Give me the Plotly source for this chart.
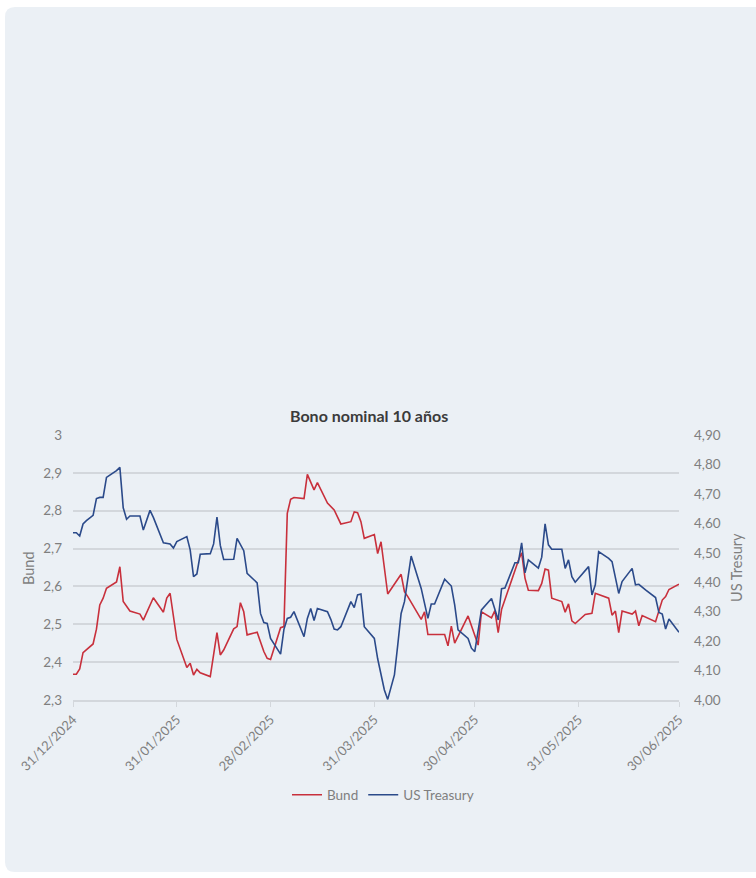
import plotly.graph_objects as go

# ---------------- data ----------------
x_tick_dates = ["2024-12-31", "2025-01-31", "2025-02-28", "2025-03-31",
                "2025-04-30", "2025-05-31", "2025-06-30"]
x_tick_labels = ["31/12/2024", "31/01/2025", "28/02/2025", "31/03/2025",
                 "30/04/2025", "31/05/2025", "30/06/2025"]

bund_dates = [
    "2024-12-31", "2025-01-01", "2025-01-02", "2025-01-03", "2025-01-06", "2025-01-07",
    "2025-01-08", "2025-01-09", "2025-01-10", "2025-01-13", "2025-01-14", "2025-01-15",
    "2025-01-17", "2025-01-20", "2025-01-21", "2025-01-24", "2025-01-27", "2025-01-28",
    "2025-01-29", "2025-01-31", "2025-02-03", "2025-02-04", "2025-02-05", "2025-02-06",
    "2025-02-07", "2025-02-10", "2025-02-12", "2025-02-13", "2025-02-14", "2025-02-17",
    "2025-02-18", "2025-02-19", "2025-02-20", "2025-02-21", "2025-02-24", "2025-02-26",
    "2025-02-27", "2025-02-28", "2025-03-03", "2025-03-04", "2025-03-05", "2025-03-06",
    "2025-03-07", "2025-03-10", "2025-03-11", "2025-03-13", "2025-03-14", "2025-03-17",
    "2025-03-19", "2025-03-21", "2025-03-24", "2025-03-25", "2025-03-26", "2025-03-27",
    "2025-03-28", "2025-03-31", "2025-04-01", "2025-04-02", "2025-04-04", "2025-04-08",
    "2025-04-09", "2025-04-10", "2025-04-14", "2025-04-15", "2025-04-16", "2025-04-21",
    "2025-04-22", "2025-04-23", "2025-04-24", "2025-04-28", "2025-05-01", "2025-05-02",
    "2025-05-05", "2025-05-06", "2025-05-07", "2025-05-08", "2025-05-13", "2025-05-14",
    "2025-05-15", "2025-05-16", "2025-05-19", "2025-05-20", "2025-05-21", "2025-05-22",
    "2025-05-23", "2025-05-26", "2025-05-27", "2025-05-28", "2025-05-29", "2025-05-30",
    "2025-06-02", "2025-06-04", "2025-06-05", "2025-06-09", "2025-06-10", "2025-06-11",
    "2025-06-12", "2025-06-13", "2025-06-16", "2025-06-17", "2025-06-18", "2025-06-19",
    "2025-06-23", "2025-06-24", "2025-06-25", "2025-06-26", "2025-06-27", "2025-06-30",
]
bund_vals = [
    2.368, 2.368, 2.382, 2.425, 2.448, 2.487,
    2.551, 2.569, 2.595, 2.612, 2.652, 2.560,
    2.535, 2.527, 2.511, 2.570, 2.532, 2.569,
    2.582, 2.460, 2.386, 2.397, 2.366, 2.381,
    2.372, 2.362, 2.478, 2.419, 2.432, 2.488,
    2.494, 2.557, 2.533, 2.472, 2.479, 2.428,
    2.410, 2.407, 2.491, 2.494, 2.793, 2.830,
    2.835, 2.832, 2.896, 2.855, 2.874, 2.820,
    2.802, 2.765, 2.771, 2.797, 2.795, 2.771,
    2.727, 2.737, 2.687, 2.718, 2.580, 2.632,
    2.586, 2.573, 2.513, 2.533, 2.473, 2.473,
    2.443, 2.495, 2.450, 2.522, 2.445, 2.533,
    2.517, 2.536, 2.478, 2.539, 2.668, 2.689,
    2.622, 2.590, 2.589, 2.608, 2.646, 2.643,
    2.569, 2.560, 2.532, 2.554, 2.509, 2.502,
    2.526, 2.529, 2.582, 2.569, 2.524, 2.535,
    2.478, 2.535, 2.527, 2.535, 2.496, 2.523,
    2.507, 2.538, 2.564, 2.573, 2.592, 2.606,
]

ust_dates = [
    "2024-12-31", "2025-01-01", "2025-01-02", "2025-01-03", "2025-01-04", "2025-01-06",
    "2025-01-07", "2025-01-08", "2025-01-09", "2025-01-10", "2025-01-11", "2025-01-13",
    "2025-01-14", "2025-01-15", "2025-01-16", "2025-01-17", "2025-01-20", "2025-01-21",
    "2025-01-23", "2025-01-24", "2025-01-27", "2025-01-29", "2025-01-30", "2025-01-31",
    "2025-02-03", "2025-02-04", "2025-02-05", "2025-02-06", "2025-02-07", "2025-02-10",
    "2025-02-11", "2025-02-12", "2025-02-13", "2025-02-14", "2025-02-17", "2025-02-18",
    "2025-02-20", "2025-02-21", "2025-02-24", "2025-02-25", "2025-02-26", "2025-02-27",
    "2025-02-28", "2025-03-03", "2025-03-04", "2025-03-05", "2025-03-06", "2025-03-07",
    "2025-03-10", "2025-03-11", "2025-03-12", "2025-03-13", "2025-03-14", "2025-03-17",
    "2025-03-18", "2025-03-19", "2025-03-20", "2025-03-21", "2025-03-24", "2025-03-25",
    "2025-03-26", "2025-03-27", "2025-03-28", "2025-03-31", "2025-04-01", "2025-04-03",
    "2025-04-04", "2025-04-06", "2025-04-07", "2025-04-08", "2025-04-09", "2025-04-10",
    "2025-04-11", "2025-04-14", "2025-04-15", "2025-04-16", "2025-04-17", "2025-04-18",
    "2025-04-21", "2025-04-23", "2025-04-24", "2025-04-25", "2025-04-28", "2025-04-29",
    "2025-04-30", "2025-05-02", "2025-05-05", "2025-05-07", "2025-05-08", "2025-05-09",
    "2025-05-12", "2025-05-13", "2025-05-14", "2025-05-15", "2025-05-16", "2025-05-19",
    "2025-05-20", "2025-05-21", "2025-05-22", "2025-05-23", "2025-05-26", "2025-05-27",
    "2025-05-28", "2025-05-29", "2025-05-30", "2025-06-03", "2025-06-04", "2025-06-05",
    "2025-06-06", "2025-06-09", "2025-06-10", "2025-06-12", "2025-06-13", "2025-06-16",
    "2025-06-17", "2025-06-18", "2025-06-20", "2025-06-23", "2025-06-24", "2025-06-25",
    "2025-06-26", "2025-06-27", "2025-06-30",
]
ust_vals = [
    4.568, 4.568, 4.557, 4.598, 4.609, 4.627,
    4.684, 4.688, 4.688, 4.756, 4.764, 4.779,
    4.790, 4.653, 4.614, 4.625, 4.625, 4.577,
    4.644, 4.620, 4.534, 4.530, 4.516, 4.538,
    4.555, 4.510, 4.419, 4.428, 4.495, 4.497,
    4.530, 4.621, 4.525, 4.477, 4.478, 4.549,
    4.507, 4.430, 4.398, 4.294, 4.263, 4.260,
    4.209, 4.156, 4.240, 4.277, 4.281, 4.300,
    4.215, 4.277, 4.311, 4.270, 4.311, 4.300,
    4.274, 4.241, 4.238, 4.249, 4.334, 4.314,
    4.357, 4.360, 4.249, 4.209, 4.140, 4.034,
    4.002, 4.085, 4.187, 4.294, 4.334, 4.419,
    4.489, 4.379, 4.331, 4.277, 4.326, 4.326,
    4.410, 4.387, 4.323, 4.238, 4.209, 4.176,
    4.164, 4.306, 4.345, 4.272, 4.378, 4.380,
    4.466, 4.466, 4.534, 4.432, 4.476, 4.448,
    4.485, 4.598, 4.527, 4.512, 4.512, 4.447,
    4.476, 4.419, 4.400, 4.453, 4.357, 4.391,
    4.504, 4.481, 4.470, 4.362, 4.402, 4.447,
    4.391, 4.393, 4.374, 4.348, 4.297, 4.292,
    4.241, 4.275, 4.230,
]

# ---------------- style ----------------
W, H = 756, 878
ML, MR, MT, MB = 73, 77, 435, 178
PW, PH = W - ML - MR, H - MT - MB

CARD = "#EBF0F5"
RED = "#C8303C"
BLUE = "#2B4A8A"
GRID = "#D3D7DC"
TXT = "#7F7F7F"
FONT = "Lato, 'Open Sans', sans-serif"


def px_x(p):
    return (p - ML) / PW


def px_y(p):
    return (H - MB - p) / PH


fig = go.Figure()
fig.add_trace(go.Scatter(x=bund_dates, y=bund_vals, name="Bund", mode="lines",
                         line=dict(color=RED, width=1.6), yaxis="y"))
fig.add_trace(go.Scatter(x=ust_dates, y=ust_vals, name="US Treasury", mode="lines",
                         line=dict(color=BLUE, width=1.6), yaxis="y2"))

# rounded card background
x0, x1 = px_x(5), px_x(770)
y0, y1 = px_y(872), px_y(7)
rx, ry = 10 / PW, 10 / PH
card_path = (f"M {x0+rx},{y1} L {x1-rx},{y1} Q {x1},{y1} {x1},{y1-ry} "
             f"L {x1},{y0+ry} Q {x1},{y0} {x1-rx},{y0} L {x0+rx},{y0} "
             f"Q {x0},{y0} {x0},{y0+ry} L {x0},{y1-ry} Q {x0},{y1} {x0+rx},{y1} Z")
fig.add_shape(type="path", path=card_path, xref="paper", yref="paper",
              fillcolor=CARD, line=dict(width=0), layer="below")

fig.update_layout(
    width=W, height=H,
    margin=dict(l=ML, r=MR, t=MT, b=MB, pad=0),
    paper_bgcolor="white",
    plot_bgcolor="rgba(0,0,0,0)",
    separators=",.",
    font=dict(family=FONT, color=TXT, size=13),
    showlegend=True,
    legend=dict(orientation="h", x=px_x(383), xanchor="center",
                y=px_y(795), yanchor="middle",
                font=dict(size=13.5, color=TXT), bgcolor="rgba(0,0,0,0)",
                itemwidth=30, tracegroupgap=0),
    xaxis=dict(type="date", range=["2024-12-31", "2025-06-30"],
               tickvals=x_tick_dates, ticktext=x_tick_labels, tickangle=-45,
               showgrid=False, showline=True, linecolor=GRID, linewidth=2,
               ticks="outside", ticklen=5, tickcolor=GRID, tickwidth=1,
               tickfont=dict(size=13, color=TXT), zeroline=False),
    yaxis=dict(range=[2.3, 3.0], dtick=0.1, tick0=2.3, showgrid=True,
               gridcolor=GRID, gridwidth=2, zeroline=False, showline=False,
               tickfont=dict(size=13.5, color=TXT), ticklabelstandoff=10),
    yaxis2=dict(range=[4.0, 4.9], dtick=0.1, tick0=4.0, tickformat=".2f",
                overlaying="y", side="right", showgrid=False, zeroline=False,
                showline=False, tickfont=dict(size=13.5, color=TXT),
                ticklabelstandoff=14),
    hovermode=False,
)

fig.add_annotation(text="<b>Bono nominal 10 años</b>", x=px_x(368.5), y=px_y(415),
                   xref="paper", yref="paper", showarrow=False,
                   font=dict(size=16, color="#3B3B3B", family=FONT),
                   xanchor="center", yanchor="middle")
fig.add_annotation(text="Bund", x=px_x(28), y=px_y(568), xref="paper", yref="paper",
                   showarrow=False, textangle=-90, font=dict(size=14.5, color=TXT),
                   xanchor="center", yanchor="middle")
fig.add_annotation(text="US Tresury", x=px_x(736), y=px_y(568), xref="paper", yref="paper",
                   showarrow=False, textangle=-90, font=dict(size=14.5, color=TXT),
                   xanchor="center", yanchor="middle")

fig.write_html("out.html")
